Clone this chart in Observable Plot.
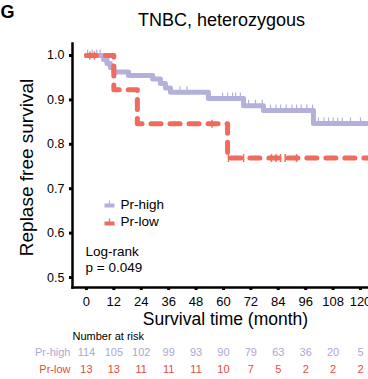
<!DOCTYPE html>
<html><head><meta charset="utf-8">
<script src="https://cdn.jsdelivr.net/npm/d3@7"></script>
<script src="https://cdn.jsdelivr.net/npm/@observablehq/plot@0.6"></script>
<style>html,body{margin:0;padding:0;background:#fff} svg{display:block}</style>
</head><body><div id="chart"></div>
<script>
const panelLetter = "G";
const title = "TNBC, heterozygous";
const yLabel = "Replase free survival";
const xLabel = "Survival time (month)";
const riskTitle = "Number at risk";
const seriesNames = ["Pr-high", "Pr-low"];
const seriesColors = ["#b3b1da", "#ee6b5d"];
const riskColors = ["#aaa9d2", "#e8493d"];
const logRankText = ["Log-rank", "p = 0.049"];

const xTicks = [0, 12, 24, 36, 48, 60, 72, 84, 96, 108, 120];
const yTicks = [0.5, 0.6, 0.7, 0.8, 0.9, 1.0];

const highTime = [0, 7.5, 9, 10.5, 12, 18.4, 29, 32.4, 34.6, 36.8, 53.4, 68.8, 77.5, 99.4, 125];
const highSurv = [1.0, 0.991, 0.982, 0.973, 0.963, 0.955, 0.947, 0.937, 0.927, 0.917, 0.903, 0.887, 0.876, 0.847, 0.847];
const lowTime = [0, 12, 22.3, 61.8, 125];
const lowSurv = [1.0, 0.923, 0.846, 0.769, 0.769];

const highCensor = [0.5, 2.5, 4.5, 6, 41, 44, 59.6, 61.8, 64, 65.3, 67.4, 71, 74, 77, 80.6, 83, 85, 87.5, 90, 92, 94, 96.5, 99, 101.6, 104, 106, 108, 110, 112, 115.6, 120];
const lowCensor = [1.5, 3.5, 55, 62.2, 68.8, 81, 83, 85, 87, 92];

const riskHigh = [114, 105, 102, 99, 93, 90, 79, 63, 36, 20, 5];
const riskLow = [13, 13, 11, 11, 11, 10, 7, 5, 2, 2, 2];

const xDomain = [-6.1, 123.5];
const yDomain = [0.4775, 1.027];
const font = '"Liberation Sans", Arial, Helvetica, sans-serif';

function curve(times, surv) { return times.map((t, i) => ({t, s: surv[i]})); }
function survAt(times, surv, t) { let s = surv[0]; for (let i = 0; i < times.length; i++) if (times[i] <= t) s = surv[i]; return s; }
function censorData(c, times, surv) { return c.map(t => ({t, s: survAt(times, surv, t)})); }

const vtick = { draw(ctx, size) { const r = Math.sqrt(size / Math.PI); ctx.moveTo(0, -r); ctx.lineTo(0, r); } };
const swatch = { draw(ctx) { ctx.rect(-5, -2, 10, 4); ctx.rect(-0.6, -5, 1.2, 3.5); } };

const highCurve = curve(highTime, highSurv);
const lowCurve = curve(lowTime, lowSurv);
const riskHighData = xTicks.map((t, i) => ({t, n: riskHigh[i]}));
const riskLowData = xTicks.map((t, i) => ({t, n: riskLow[i]}));

function label(str, opts) {
  return Plot.text([str], {text: d => d, lineAnchor: "middle", ...opts});
}

const plot = Plot.plot({
  width: 368, height: 379,
  marginLeft: 72, marginRight: 0, marginTop: 43, marginBottom: 92,
  style: {fontFamily: font, background: "#fff", color: "#000", overflow: "visible"},
  x: {domain: xDomain},
  y: {domain: yDomain},
  marks: [
    Plot.line(highCurve, {x: "t", y: "s", curve: "step-after", stroke: seriesColors[0], strokeWidth: 5, clip: true}),
    Plot.dot(censorData(highCensor, highTime, highSurv), {x: "t", y: "s", symbol: vtick, r: 3, dy: -3, fill: "none", stroke: seriesColors[0], strokeWidth: 1.2, clip: true}),
    Plot.line(lowCurve, {x: "t", y: "s", curve: "step-after", stroke: seriesColors[1], strokeWidth: 5, strokeDasharray: "10,9", clip: true}),
    Plot.dot(censorData(lowCensor, lowTime, lowSurv), {x: "t", y: "s", symbol: vtick, r: 4, fill: "none", stroke: seriesColors[1], strokeWidth: 1.5, clip: true}),
    Plot.axisX({ticks: xTicks, tickSize: 3, tickPadding: 6, strokeWidth: 3, fontSize: 13, label: null}),
    Plot.axisY({ticks: yTicks, tickSize: 3, tickPadding: 5, tickFormat: d3.format(".1f"), strokeWidth: 3, fontSize: 12.5, label: null}),
    Plot.frame({anchor: "left", strokeWidth: 2.5}),
    Plot.frame({anchor: "bottom", strokeWidth: 2.5}),
    label(panelLetter, {frameAnchor: "top-left", dx: -72, dy: -31, textAnchor: "start", fontSize: 18, fontWeight: "bold"}),
    label(title, {frameAnchor: "top-left", dx: 149, dy: -23, textAnchor: "middle", fontSize: 18}),
    label(yLabel, {frameAnchor: "left", dx: -46, dy: 2, rotate: -90, textAnchor: "middle", fontSize: 19}),
    label(xLabel, {frameAnchor: "bottom", dx: 5, dy: 32, textAnchor: "middle", fontSize: 17.5}),
    Plot.dot([seriesNames[0]], {frameAnchor: "bottom-left", dx: 37, dy: -82, symbol: swatch, fill: seriesColors[0], stroke: "none"}),
    Plot.dot([seriesNames[1]], {frameAnchor: "bottom-left", dx: 37, dy: -64, symbol: swatch, fill: seriesColors[1], stroke: "none"}),
    label(seriesNames[0], {frameAnchor: "bottom-left", dx: 48, dy: -83, textAnchor: "start", fontSize: 13.5}),
    label(seriesNames[1], {frameAnchor: "bottom-left", dx: 48, dy: -66, textAnchor: "start", fontSize: 13.5}),
    label(logRankText[0], {frameAnchor: "bottom-left", dx: 13, dy: -36, textAnchor: "start", fontSize: 13.5}),
    label(logRankText[1], {frameAnchor: "bottom-left", dx: 13, dy: -20, textAnchor: "start", fontSize: 13.5}),
    label(riskTitle, {frameAnchor: "bottom-left", dx: 0, dy: 49, textAnchor: "start", fontSize: 11}),
    label(seriesNames[0], {frameAnchor: "bottom-left", dx: -2, dy: 65, textAnchor: "end", fontSize: 11, fill: riskColors[0]}),
    label(seriesNames[1], {frameAnchor: "bottom-left", dx: -2, dy: 82, textAnchor: "end", fontSize: 11, fill: riskColors[1]}),
    Plot.text(riskHighData, {x: "t", text: "n", frameAnchor: "bottom", lineAnchor: "middle", dy: 65, fontSize: 11, fill: riskColors[0]}),
    Plot.text(riskLowData, {x: "t", text: "n", frameAnchor: "bottom", lineAnchor: "middle", dy: 82, fontSize: 11, fill: riskColors[1]})
  ]
});
document.getElementById("chart").appendChild(plot);
</script>
</body></html>
